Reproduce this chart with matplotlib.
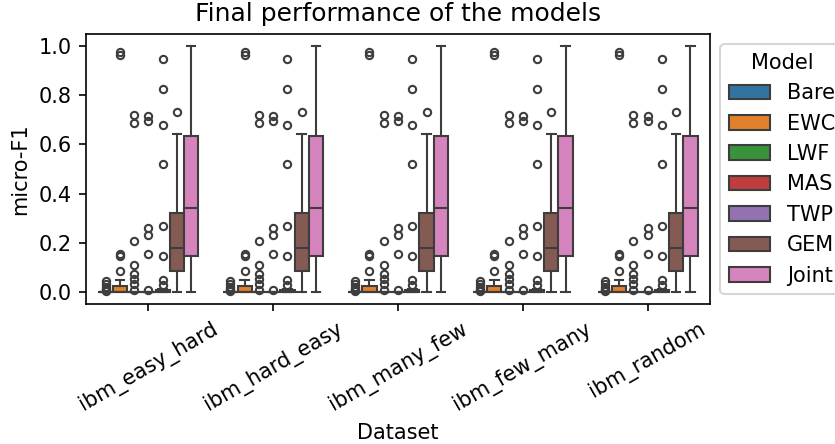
import numpy as np
import matplotlib
matplotlib.use("Agg")
import matplotlib.pyplot as plt
from matplotlib.patches import Patch

datasets = ["ibm_easy_hard", "ibm_hard_easy", "ibm_many_few", "ibm_few_many", "ibm_random"]
models = ["Bare", "EWC", "LWF", "MAS", "TWP", "GEM", "Joint"]
colors = ["#3274a1", "#e1812c", "#3a923a", "#c03d3e", "#9372b2", "#845b53", "#d684bd"]

# box statistics per model (whislo, q1, median, q3, whishi)
# every dataset shows the same distribution
whislo = [0.0, 0.0, 0.0, 0.0, 0.0, 0.0, 0.0]
q1 = [0.0, 0.0, 0.0, 0.0, 0.0, 0.084, 0.147]
med = [0.0, 0.0, 0.0, 0.0, 0.0, 0.178, 0.341]
q3 = [0.0, 0.024, 0.0, 0.0, 0.006, 0.320, 0.633]
whishi = [0.0, 0.049, 0.0, 0.0, 0.013, 0.643, 1.0]
fliers = [
    [0.003, 0.006, 0.012, 0.02, 0.03, 0.043],
    [0.083, 0.147, 0.154, 0.963, 0.977],
    [0.009, 0.03, 0.051, 0.073, 0.107, 0.205, 0.689, 0.722],
    [0.008, 0.155, 0.231, 0.258, 0.695, 0.716],
    [0.029, 0.049, 0.147, 0.268, 0.519, 0.678, 0.824, 0.949],
    [0.733],
    [],
]

gray = "#3d3d3d"
fig = plt.figure(figsize=(835 / 150, 444 / 150), dpi=150)
ax = fig.add_axes([86 / 835, 1 - 304 / 444, 624 / 835, 270 / 444])

n = len(models)
w = 0.8 / n
for d in range(len(datasets)):
    for m in range(n):
        st = dict(whislo=whislo[m], q1=q1[m], med=med[m], q3=q3[m],
                  whishi=whishi[m], fliers=fliers[m])
        pos = d - 0.4 + w * (m + 0.5)
        ax.bxp([st], positions=[pos], widths=[w], capwidths=[w * 0.6],
               patch_artist=True, manage_ticks=False,
               boxprops=dict(facecolor=colors[m], edgecolor=gray, linewidth=1.0),
               medianprops=dict(color=gray, linewidth=1.0),
               whiskerprops=dict(color=gray, linewidth=1.0),
               capprops=dict(color=gray, linewidth=1.0),
               flierprops=dict(marker="o", markerfacecolor="none",
                               markeredgecolor=gray, markersize=3.5,
                               markeredgewidth=1.0))

ax.set_xlim(-0.5, len(datasets) - 0.5)
ax.set_ylim(-0.05, 1.05)
ax.set_yticks([0.0, 0.2, 0.4, 0.6, 0.8, 1.0])
ax.set_yticklabels(["0.0", "0.2", "0.4", "0.6", "0.8", "1.0"])
ax.set_xticks(range(len(datasets)))
ax.set_xticklabels(datasets, rotation=30)
ax.set_xlabel("Dataset")
ax.set_ylabel("micro-F1")
ax.set_title("Final performance of the models")

handles = [Patch(facecolor=c, edgecolor=gray, linewidth=1.0) for c in colors]
ax.legend(handles, models, title="Model", loc="upper left", bbox_to_anchor=(1, 1))

fig.savefig("out.png", dpi=150)
